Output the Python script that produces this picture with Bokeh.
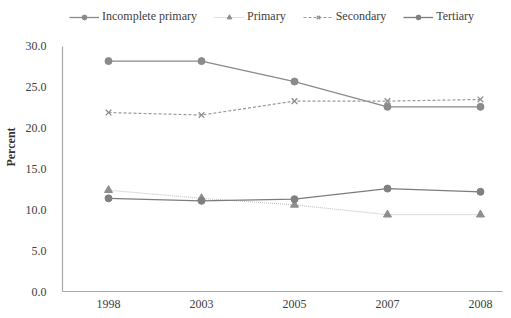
from bokeh.plotting import figure
from bokeh.models import FixedTicker, PrintfTickFormatter, Legend, LegendItem, Range1d
from bokeh.embed import file_html
from bokeh.resources import INLINE

years = ["1998", "2003", "2005", "2007", "2008"]
incomplete_primary = [28.2, 28.2, 25.7, 22.6, 22.6]
primary = [12.4, 11.4, 10.6, 9.4, 9.4]
secondary = [21.9, 21.6, 23.3, 23.3, 23.5]
tertiary = [11.4, 11.1, 11.3, 12.6, 12.2]
y_ticks = [0, 5, 10, 15, 20, 25, 30]

xs = list(range(len(years)))
FONT = "Liberation Serif"

p = figure(width=503, height=310, output_backend="svg", toolbar_location=None,
           x_range=Range1d(-0.495, 4.237), y_range=Range1d(0, 35.37),
           min_border_left=54, min_border_right=1, min_border_bottom=18, min_border_top=2)
p.outline_line_color = None
p.xgrid.visible = False
p.ygrid.visible = False

r1l = p.line(xs, incomplete_primary, line_color="#8a8a8a", line_width=1.3)
r1m = p.scatter(xs, incomplete_primary, marker="circle", size=7, fill_color="#8a8a8a", line_color="#8a8a8a")
r2l = p.line(xs, primary, line_color="#c4c4c4", line_width=1.2, line_dash="1 1")
r2m = p.scatter(xs, primary, marker="triangle", size=8, fill_color="#8f8f8f", line_color="#8f8f8f")
r3l = p.line(xs, secondary, line_color="#9a9a9a", line_width=1.2, line_dash="3 2")
r3m = p.scatter(xs, secondary, marker="x", size=8, line_color="#8f8f8f", line_width=1.3)
r4l = p.line(xs, tertiary, line_color="#7c7c7c", line_width=1.3)
r4m = p.scatter(xs, tertiary, marker="circle", size=7, fill_color="#808080", line_color="#808080")

p.xaxis.ticker = FixedTicker(ticks=xs)
p.xaxis.major_label_overrides = {i: y for i, y in enumerate(years)}
p.yaxis.ticker = FixedTicker(ticks=y_ticks)
p.yaxis.formatter = PrintfTickFormatter(format="%.1f")
p.yaxis.bounds = (0, 30)
for ax in (p.xaxis, p.yaxis):
    ax.major_tick_line_color = None
    ax.minor_tick_line_color = None
    ax.axis_line_color = "#a8a8a8"
    ax.axis_line_width = 1.2
    ax.major_label_text_font = FONT
    ax.major_label_text_font_size = "12px"
    ax.major_label_text_color = "#404040"
p.xaxis.major_label_standoff = 2
p.yaxis.major_label_standoff = 10
p.yaxis.axis_label = "Percent"
p.yaxis.axis_label_text_font = FONT
p.yaxis.axis_label_text_font_style = "bold"
p.yaxis.axis_label_text_font_size = "12px"
p.yaxis.axis_label_text_color = "#333333"
p.yaxis.axis_label_standoff = 5

legend = Legend(items=[
    LegendItem(label="Incomplete primary", renderers=[r1l, r1m]),
    LegendItem(label="Primary", renderers=[r2l, r2m]),
    LegendItem(label="Secondary", renderers=[r3l, r3m]),
    LegendItem(label="Tertiary", renderers=[r4l, r4m]),
], orientation="horizontal", location="top_left")
legend.label_text_font = FONT
legend.label_text_font_size = "12px"
legend.label_text_color = "#404040"
legend.glyph_width = 30
legend.glyph_height = 12
legend.label_standoff = 3
legend.spacing = 17
legend.padding = 0
legend.margin = 7
legend.border_line_color = None
legend.background_fill_alpha = 0
legend.label_height = 12
p.add_layout(legend)

open("out.html", "w").write(file_html(p, INLINE))
